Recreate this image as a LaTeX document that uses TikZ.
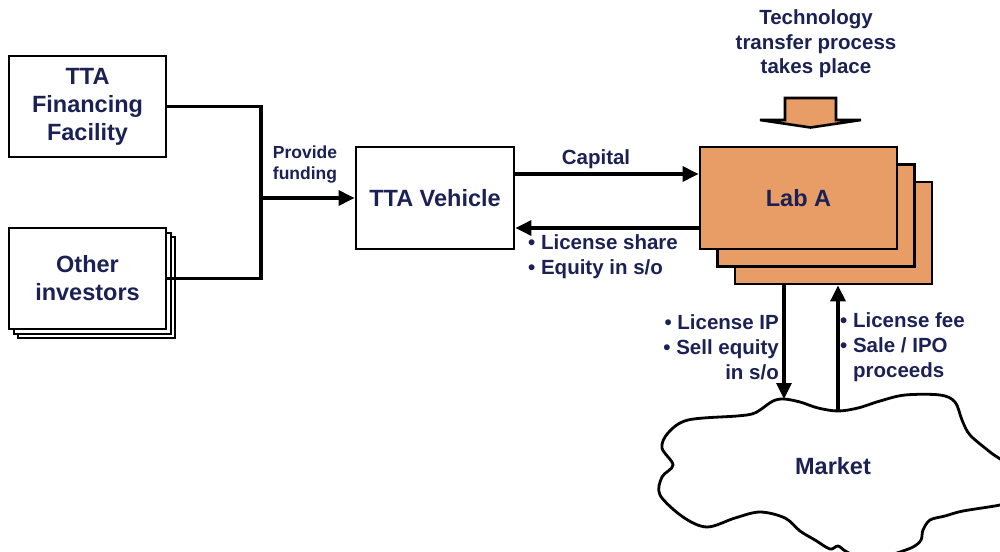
\documentclass[tikz,border=0pt]{standalone}
\usepackage{fontspec}
\setmainfont{Liberation Sans}
\usetikzlibrary{arrows.meta}
\definecolor{navy}{RGB}{27,33,84}
\definecolor{labfill}{RGB}{232,156,102}

\begin{document}
\begin{tikzpicture}[x=1pt,y=-1pt,
  box/.style={draw=black, line width=2.8pt, fill=white, minimum width=157pt,
    minimum height=101pt, inner sep=0pt, align=center, text=navy,
    font=\bfseries\fontsize{23.5}{28}\selectfont},
  shadowbox/.style={box, line width=2pt},
  labbox/.style={box, fill=labfill, minimum width=197pt, minimum height=102pt},
  lbl/.style={text=navy, inner sep=0pt, font=\bfseries\fontsize{20.5}{25}\selectfont},
  conn/.style={draw=black, line width=3.2pt},
  arr/.style={conn, -{Triangle[length=16pt,width=15pt]}}
]
\useasboundingbox (0,0) rectangle (1000,551);

% Funding sources
\node[box] (tff) at (87.5,106.5) {TTA\\Financing\\Facility};
\node[shadowbox] (oi3) at (96.5,287.5) {};
\node[shadowbox] (oi2) at (92,283) {};
\node[box] (oi) at (87.5,278.5) {Other\\investors};

% Vehicle
\node[box, minimum width=158pt, minimum height=102pt] (veh) at (435,198) {TTA Vehicle};

% Lab stack
\node[labbox] (lab3) at (833.5,233) {};
\node[labbox] (lab2) at (816,215.5) {};
\node[labbox] (labA) at (798.5,198) {Lab A};

% Technology transfer input arrow
\node[lbl, align=center, font=\bfseries\fontsize{20.5}{24.5}\selectfont] (tt) at (816,44) {Technology\\transfer process\\takes place};
\draw[line width=2.6pt, fill=labfill, line join=miter]
  (785,98) -- (836,98) -- (836,120) -- (861,120) -- (810.5,127.5)
  -- (760,120) -- (785,120) -- cycle;

% Funding connectors
\coordinate (j) at (261,198);
\draw[conn] (tff.east) -| (j);
\draw[conn] (oi.east) -| (j);
\draw[arr] (j) -- (veh.west);
\node[lbl, align=center, font=\bfseries\fontsize{17.5}{21}\selectfont] (pf) at (305,165) {Provide\\funding};

% Capital flows
\draw[arr] ([yshift=24pt]veh.east) -- ([yshift=24pt]labA.west);
\node[lbl] (cap) at (596,159) {Capital};
\draw[arr] ([yshift=-30pt]labA.west) -- ([yshift=-30pt]veh.east);
\node[lbl, align=left, anchor=west] (ls) at (528,256.5) {• License share\\• Equity in s/o};

% Market cloud
\begin{scope}
\clip (0,0) rectangle (1000,551);
\draw[line width=2.8pt, fill=white] plot[smooth cycle, tension=0.55] coordinates {
  (760,410) (773,401) (784,399) (800,402) (818,408) (838,411) (858,408)
  (880,401) (905,395) (940,395) (955,402) (962,420) (970,435) (990,452)
  (1012,470) (1012,500) (1000,505) (963,511) (945,516) (930,520) (923,530)
  (921,540) (913,547) (897,553) (870,562) (847,552) (838,546) (830,549)
  (815,540) (800,531) (785,518) (760,512) (735,518) (707,527) (683,517)
  (660,495) (662,477) (673,465) (662,448) (668,433) (688,420) (737,416)
  (752,414)};
\end{scope}
\node[text=navy, font=\bfseries\fontsize{23.5}{28}\selectfont] (mkt) at (833,466) {Market};
\coordinate (mkin) at (784,399);
\coordinate (mkout) at (838,411);

% Lab <-> market flows
\draw[arr] ([xshift=-49.5pt]lab3.south) -- (mkin);
\draw[arr] (mkout) -- ([xshift=4.5pt]lab3.south);
\node[lbl, align=right, anchor=east] (lip) at (779,347) {• License IP\\• Sell equity\\in s/o};
\node[lbl, align=left, anchor=west] (lfee) at (840,347) {• License fee\\• Sale / IPO\\\phantom{• }proceeds};
\end{tikzpicture}
\end{document}
